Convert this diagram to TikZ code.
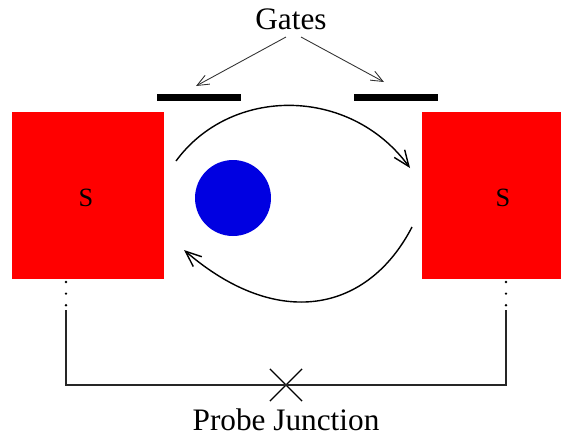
\documentclass[tikz,border=0pt]{standalone}
\usepackage{fontspec}
\setmainfont{Liberation Serif}
\usetikzlibrary{arrows.meta, positioning, shapes.misc}
\definecolor{sred}{RGB}{255,0,0}
\definecolor{dotblue}{RGB}{0,0,225}
\begin{document}
\begin{tikzpicture}[
  x=0.02cm, y=-0.02cm,
  block/.style={rectangle, fill=sred, minimum width=3.04cm, minimum height=3.34cm, inner sep=0pt},
  gate/.style={rectangle, fill=black, minimum width=1.68cm, minimum height=0.15cm, inner sep=0pt},
  lbl/.style={font=\fontsize{17.8}{20}\selectfont, inner sep=0pt},
  slbl/.style={font=\fontsize{15}{17}\selectfont, inner sep=0pt},
  wire/.style={line width=0.7pt, draw=black!85},
  dotwire/.style={line width=1.5pt, line cap=round, dash pattern=on 0pt off 6.6pt, draw=black},
  arrg/.style={-{Straight Barb[length=2.4mm, width=2mm]}, line width=0.5pt, draw=black!80},
  arrc/.style={-{Straight Barb[length=3.2mm, width=2.6mm]}, line width=0.8pt, draw=black}
]
\useasboundingbox (0,0) rectangle (561,434);
% Superconductors
\node[block] (sl) at (88,195.5) {};
\node[block] (sr) at (498,195.5) {};
\node[slbl] (sltext) at (86,198) {S};
\node[slbl] (srtext) at (503,198) {S};
% Gates
\node[gate] (gl) at (199,97.5) {};
\node[gate] (gr) at (396,97.5) {};
\node[lbl] (gates) at (291,19) {Gates};
\coordinate (gtl) at (286,37);
\coordinate (gtr) at (301,37);
\coordinate (gal) at (196,86);
\coordinate (gar) at (384,82);
\draw[arrg] (gtl) -- (gal);
\draw[arrg] (gtr) -- (gar);
% Vortex
\node[circle, fill=dotblue, minimum size=1.52cm, inner sep=0pt] (vortex) at (233,198) {};
% Circulation
\coordinate (ta) at (176,161);
\coordinate (tb) at (410,168);
\coordinate (ba) at (412,227);
\coordinate (bb) at (184,250);
\draw[arrc] (ta) .. controls (231,86) and (350,86) .. (tb);
\draw[arrc] (ba) .. controls (368,312) and (278,331) .. (bb);
% Probe circuit
\coordinate (wl0) at (66,282);
\coordinate (wl1) at (66,306);
\coordinate (wl2) at (66,310);
\coordinate (wr0) at (506,282);
\coordinate (wr1) at (506,306);
\coordinate (wr2) at (506,310);
\draw[dotwire] (wl0) -- (wl1);
\draw[dotwire] (wr0) -- (wr1);
\node[cross out, draw=black, line width=0.7pt, minimum width=0.62cm, minimum height=0.62cm, inner sep=0pt] (probe) at (286,385) {};
\draw[wire] (wl2) |- (probe.center) -| (wr2);
\node[lbl] (probetext) at (286,420) {Probe Junction};
\end{tikzpicture}
\end{document}
